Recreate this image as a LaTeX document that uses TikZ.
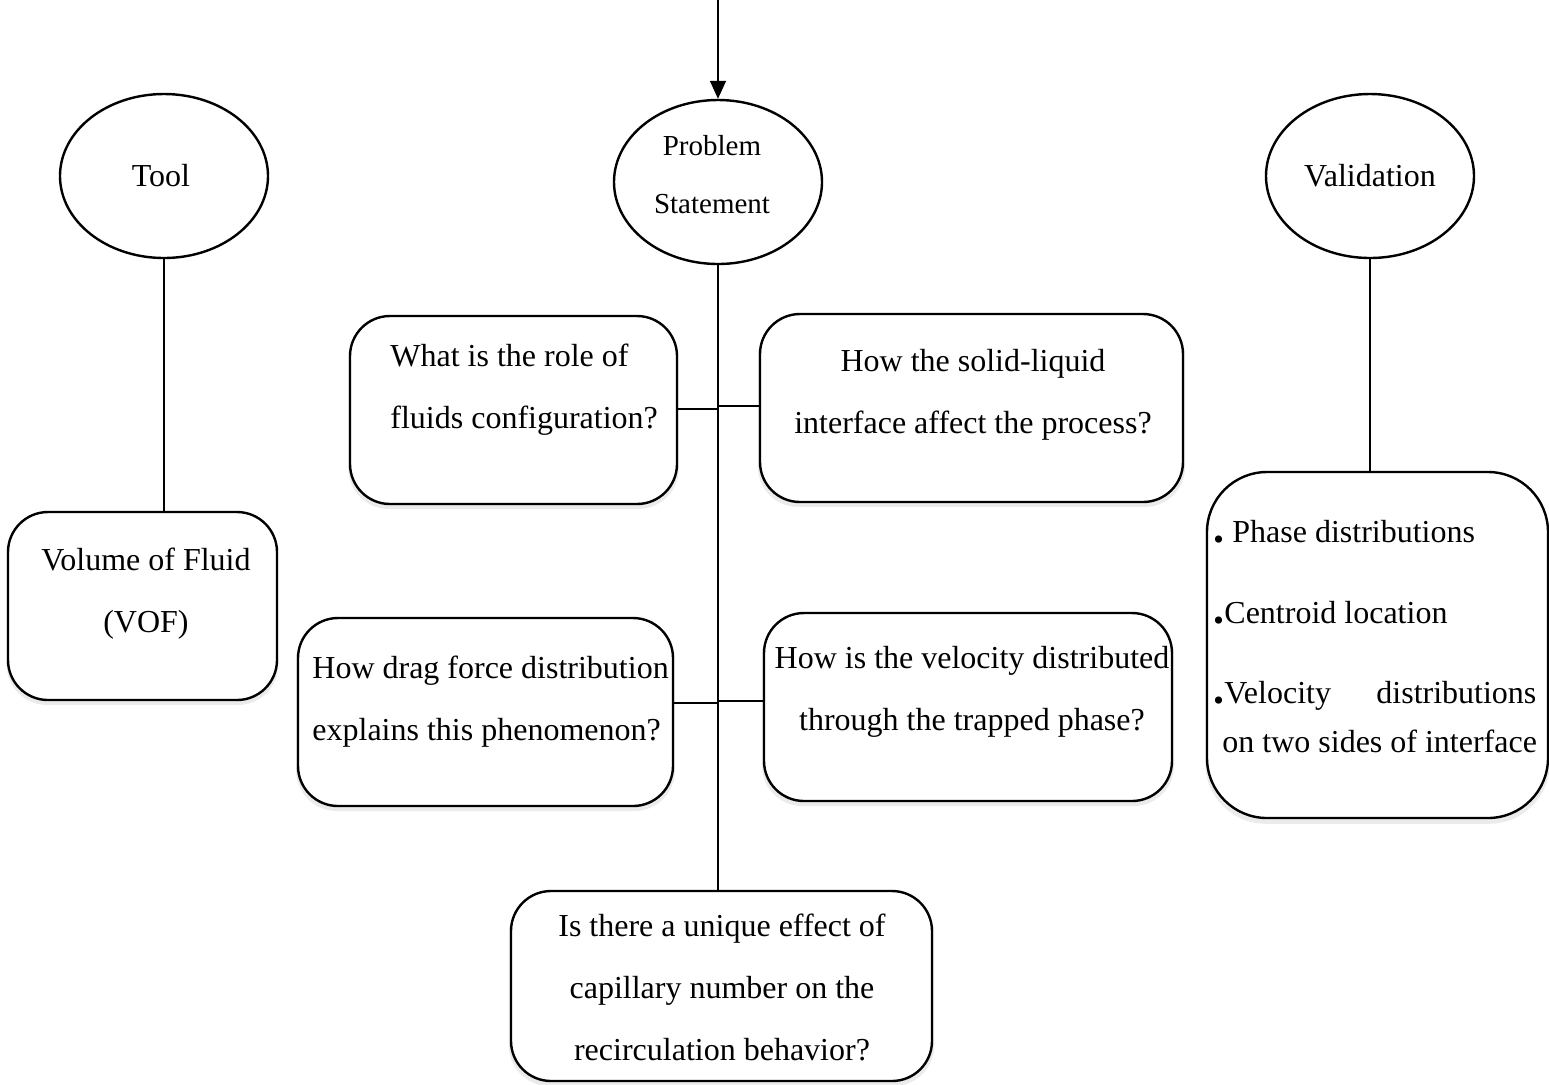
\documentclass[tikz,border=0pt]{standalone}
\usepackage{fontspec}
\setmainfont{Liberation Serif}
\usetikzlibrary{shapes.geometric,arrows.meta,shadows}
\newcommand{\bdot}{{\bfseries\fontsize{22}{22}\selectfont.}}
\tikzset{
  oval/.style={draw, line width=1.2pt, ellipse, minimum width=104pt, minimum height=82pt, inner sep=0pt},
  qbox/.style={draw, line width=1.2pt, rounded corners=20pt, fill=white, inner sep=0pt,
    general shadow={fill=black!8, shadow xshift=0pt, shadow yshift=-2pt, shadow scale=1.01}},
  txt/.style={inner sep=0pt, align=center, font=\fontsize{16}{31}\selectfont},
  ltxt/.style={inner sep=0pt, align=left, font=\fontsize{16}{31}\selectfont},
  link/.style={line width=0.7pt}
}
\begin{document}
\begin{tikzpicture}[x=0.5pt,y=-0.5pt]
\useasboundingbox (0,0) rectangle (1549,1084);
% ellipses
\node[oval] (tool) at (164,176) {};
\node[txt] (tooltxt) at (161,176) {Tool};
\node[oval] (ps) at (718,182) {};
\node[txt, font=\fontsize{14.5}{29}\selectfont] (pstxt) at (712,175) {Problem\\Statement};
\node[oval] (val) at (1370,176) {};
\node[txt] (valtxt) at (1370,176) {Validation};
\coordinate (top) at (718,0);
\draw[link, -{Triangle[length=9pt,width=8pt]}] (top) -- (ps.north);
% boxes
\node[qbox, minimum width=134.5pt, minimum height=94pt] (tb) at (142.5,606) {};
\node[qbox, minimum width=163.5pt, minimum height=94pt] (b1) at (513.5,410) {};
\node[qbox, minimum width=211.5pt, minimum height=94pt] (b2) at (971.5,408) {};
\node[qbox, minimum width=187.5pt, minimum height=94pt] (b3) at (485.5,712) {};
\node[qbox, minimum width=204pt, minimum height=94pt] (b4) at (968,707) {};
\node[qbox, minimum width=210.5pt, minimum height=95pt] (b5) at (721.5,986) {};
\node[qbox, rounded corners=30pt, minimum width=170.5pt, minimum height=173pt] (vb) at (1377.5,645) {};
% texts
\node[txt] (tbt) at (146,594) {Volume of Fluid\\(VOF)};
\node[ltxt, anchor=west] (b1t) at (390,390) {What is the role of\\fluids configuration?};
\node[txt] (b2t) at (973,395) {How the solid-liquid\\interface affect the process?};
\node[ltxt, anchor=west] (b3t) at (312,702) {How drag force distribution\\explains this phenomenon?};
\node[txt] (b4t) at (972,692) {How is the velocity distributed\\through the trapped phase?};
\node[txt] (b5t) at (722,987) {Is there a unique effect of\\capillary number on the\\recirculation behavior?};
\node[ltxt, anchor=west] (v1) at (1213,532) {\bdot\ Phase distributions};
\node[ltxt, anchor=west] (v2) at (1213,613) {\bdot Centroid location};
\node[ltxt, anchor=west] (v3) at (1213,696) {\makebox[161.5pt][s]{\bdot Velocity\hfill distributions}};
\node[ltxt, anchor=west] (v4) at (1222,741) {on two sides of interface};
% connectors
\draw[link] (tool.south) -- (tool.south |- tb.north);
\draw[link] (val.south) -- (val.south |- vb.north);
\draw[link] (ps.south) -- (ps.south |- b5.north);
\coordinate (j1) at (718,409);
\coordinate (j2) at (718,406);
\coordinate (j3) at (718,703);
\coordinate (j4) at (718,701);
\draw[link] (j1) -- (j1 -| b1.east);
\draw[link] (j2) -- (j2 -| b2.west);
\draw[link] (j3) -- (j3 -| b3.east);
\draw[link] (j4) -- (j4 -| b4.west);
\end{tikzpicture}
\end{document}
